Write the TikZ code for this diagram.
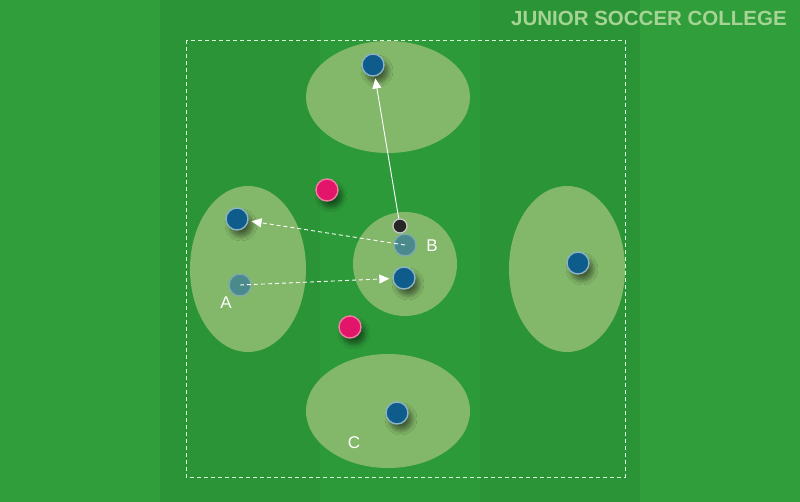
\documentclass[tikz,border=0pt]{standalone}
\usepackage{fontspec}
\setmainfont{Liberation Sans}
\usetikzlibrary{arrows.meta,shadows.blur}
\definecolor{grassA}{HTML}{2F9E3B}
\definecolor{grassB}{HTML}{2A9436}
\definecolor{grassC}{HTML}{2C9A39}
\definecolor{zone}{HTML}{8DBB6F}
\definecolor{playerblue}{HTML}{0D5C8C}
\definecolor{playerrim}{HTML}{8DB3C4}
\definecolor{ghostfill}{HTML}{4A8A8C}
\definecolor{ghostrim}{HTML}{7DAAAE}
\definecolor{pinkfill}{HTML}{E3156B}
\definecolor{pinkrim}{HTML}{EE7FA3}
\definecolor{titlegreen}{HTML}{A6D495}
\tikzset{
  zonefill/.style={fill=zone, opacity=0.9},
  psh/.style={blur shadow={shadow xshift=4pt, shadow yshift=-6pt, shadow blur steps=8, shadow opacity=50, shadow blur radius=5pt}},
  player/.style={circle, minimum size=22pt, inner sep=0pt, fill=playerblue, draw=playerrim, line width=1.4pt, psh},
  ghost/.style={circle, minimum size=22pt, inner sep=0pt, fill=ghostfill, draw=ghostrim, line width=1.4pt},
  opp/.style={circle, minimum size=22pt, inner sep=0pt, fill=pinkfill, draw=pinkrim, line width=1.4pt, psh},
  ballst/.style={circle, minimum size=14pt, inner sep=0pt, fill=black!85, draw=white!80!black, line width=1.2pt},
  lbl/.style={text=white, font=\fontsize{17}{17}\selectfont, inner sep=0pt},
  passarrow/.style={white, line width=0.9pt, -{Triangle[width=9pt,length=10pt]}},
  runarrow/.style={white, line width=0.9pt, dash pattern=on 4pt off 3pt, -{Triangle[width=9pt,length=10pt]}},
  boundary/.style={white!85!green, line width=0.8pt, dash pattern=on 4pt off 3pt}
}
\begin{document}
\begin{tikzpicture}[x=1pt,y=-1pt]
\useasboundingbox (0,0) rectangle (800,502);
% grass stripes
\fill[grassA] (0,0) rectangle (160,502);
\fill[grassB] (160,0) rectangle (320,502);
\fill[grassC] (320,0) rectangle (480,502);
\fill[grassB] (480,0) rectangle (640,502);
\fill[grassA] (640,0) rectangle (800,502);
% title
\node[text=titlegreen, font=\bfseries\fontsize{20.5}{21}\selectfont, anchor=east, inner sep=0pt] (title) at (787,18) {JUNIOR SOCCER COLLEGE};
% zones
\fill[zonefill] (388,97) ellipse [x radius=82, y radius=56];
\fill[zonefill] (248,269) ellipse [x radius=58, y radius=83];
\fill[zonefill] (567,269) ellipse [x radius=58, y radius=83];
\fill[zonefill] (388,411) ellipse [x radius=82, y radius=57];
\fill[zonefill] (405,264) circle [radius=52];
% boundary
\draw[boundary] (186,40) rectangle (625,477);
% players
\node[player] (top) at (373,65) {};
\node[player] (lefttop) at (237,219) {};
\node[ghost] (ghostA) at (240,285) {};
\node[ghost] (ghostB) at (405,245) {};
\node[player] (mid) at (404,278) {};
\node[player] (right) at (578,263) {};
\node[player] (bottom) at (397,413) {};
\node[opp] (opp1) at (327,190) {};
\node[opp] (opp2) at (350,327) {};
\node[ballst] (ball) at (400,226) {};
% labels
\node[lbl] (la) at (226,303) {A};
\node[lbl] (lb) at (432,246) {B};
\node[lbl] (lc) at (354,443) {C};
% arrows
\draw[passarrow, shorten >=2pt] (ball) -- (top);
\draw[runarrow, shorten >=3pt] (ghostB.center) -- (lefttop);
\draw[runarrow, shorten >=3pt] (ghostA.center) -- (mid);
\end{tikzpicture}
\end{document}
